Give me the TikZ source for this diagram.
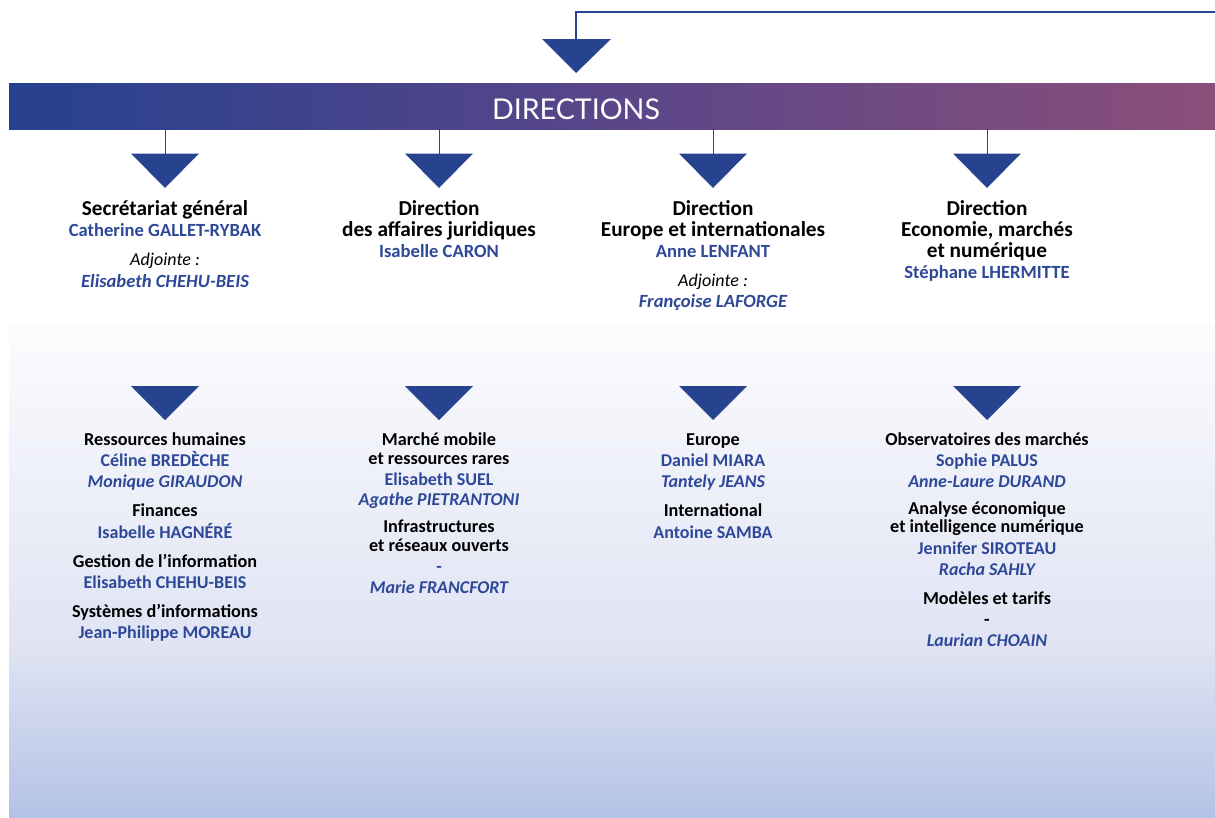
\documentclass[tikz,border=0pt]{standalone}
\usepackage{fontspec}
\setmainfont{Carlito}
\newfontfamily\bannerfont{Lato}
\definecolor{navy}{HTML}{27428F}
\definecolor{nametxt}{HTML}{2D4898}
\definecolor{bandL}{HTML}{26418F}
\definecolor{bandM}{HTML}{5A4689}
\definecolor{bandR}{HTML}{8B4F7A}
\definecolor{bgA}{HTML}{FCFCFE}
\definecolor{bgB}{HTML}{DFE3F3}
\definecolor{bgC}{HTML}{B3C2E5}
\tikzset{
  x=1pt,y=-1pt,
  wire/.style={draw=navy,line width=1pt},
  topwire/.style={draw=navy,line width=1.4pt},
  tri/.style={fill=navy,draw=none},
  lbl/.style={anchor=base,inner sep=0pt,align=center},
  hd/.style={lbl,font=\fontsize{21.3}{24}\selectfont\bfseries,text=black},
  nm/.style={lbl,font=\fontsize{18.6}{21}\selectfont\bfseries,text=nametxt},
  nmi/.style={lbl,font=\fontsize{18.6}{21}\selectfont\bfseries\itshape,text=nametxt},
  adj/.style={lbl,font=\fontsize{18}{21}\selectfont\itshape,text=black},
  sh/.style={lbl,font=\fontsize{18.2}{21}\selectfont\bfseries,text=black},
  sn/.style={lbl,font=\fontsize{18}{21}\selectfont\bfseries,text=nametxt},
  sni/.style={lbl,font=\fontsize{18}{21}\selectfont\bfseries\itshape,text=nametxt},
}
\begin{document}
\begin{tikzpicture}
\useasboundingbox (0,0) rectangle (1215,817);
% background panel
\shade[top color=bgA,bottom color=bgB] (9,325) rectangle (1215,650.5);
\shade[top color=bgB,bottom color=bgC] (9,650) rectangle (1215,817);
% banner
\shade[left color=bandL,right color=bandM] (9,83) rectangle (612,129);
\shade[left color=bandM,right color=bandR] (611.5,83) rectangle (1215,129);
\node[font=\bannerfont\fontsize{28.6}{30}\selectfont,text=white,inner sep=0pt] (banner) at (576,109.5) {DIRECTIONS};
% top connector
\coordinate (topin) at (1215,12);
\coordinate (ttop) at (576,40);
\fill[tri] (542,39) -- (611,39) -- (576,73) -- cycle;
\draw[topwire] (topin) -- (576,12) -- (ttop);
% columns
\foreach \i/\cx in {1/165,2/439,3/713,4/987}{
  \coordinate (b\i) at (\cx,129);
  \coordinate (t\i) at (\cx,154);
  \fill[tri] (\cx-34,153.5) -- (\cx+34,153.5) -- (\cx,188) -- cycle;
  \draw[wire] (b\i) -- (t\i);
  \fill[tri] (\cx-34,386) -- (\cx+34,386) -- (\cx,420) -- cycle;
}
% row 1 ---------------------------------------------
\node[hd] (sg) at (165,215) {Secrétariat général};
\node[nm] (sgn) at (165,236) {Catherine GALLET-RYBAK};
\node[adj] (sga) at (165,265) {Adjointe :};
\node[nmi] (sgan) at (165,287) {Elisabeth CHEHU-BEIS};

\node[hd] (daj1) at (439,215) {Direction};
\node[hd] (daj2) at (439,236) {des affaires juridiques};
\node[nm] (dajn) at (439,257) {Isabelle CARON};

\node[hd] (dei1) at (713,215) {Direction};
\node[hd] (dei2) at (713,236) {Europe et internationales};
\node[nm] (dein) at (713,257) {Anne LENFANT};
\node[adj] (deia) at (713,286) {Adjointe :};
\node[nmi] (deian) at (713,307) {Françoise LAFORGE};

\node[hd] (dem1) at (987,215) {Direction};
\node[hd] (dem2) at (987,236) {Economie, marchés};
\node[hd] (dem3) at (987,257) {et numérique};
\node[nm] (demn) at (987,278) {Stéphane LHERMITTE};

% row 2 ---------------------------------------------
\node[sh] (rh) at (165,445) {Ressources humaines};
\node[sn] (rhn) at (165,466) {Céline BREDÈCHE};
\node[sni] (rhi) at (165,487) {Monique GIRAUDON};
\node[sh] (fi) at (165,516) {Finances};
\node[sn] (fin) at (165,538) {Isabelle HAGNÉRÉ};
\node[sh] (gi) at (165,567) {Gestion de l’information};
\node[sn] (gin) at (165,588) {Elisabeth CHEHU-BEIS};
\node[sh] (si) at (165,617) {Systèmes d’informations};
\node[sn] (sin) at (165,638) {Jean-Philippe MOREAU};

\node[sh] (mm1) at (439,445) {Marché mobile};
\node[sh] (mm2) at (439,464) {et ressources rares};
\node[sn] (mmn) at (439,485) {Elisabeth SUEL};
\node[sni] (mmi) at (439,505) {Agathe PIETRANTONI};
\node[sh] (ir1) at (439,532) {Infrastructures};
\node[sh] (ir2) at (439,551) {et réseaux ouverts};
\node[sn] (irn) at (439,572) {-};
\node[sni] (iri) at (439,593) {Marie FRANCFORT};

\node[sh] (eu) at (713,445) {Europe};
\node[sn] (eun) at (713,466) {Daniel MIARA};
\node[sni] (eui) at (713,487) {Tantely JEANS};
\node[sh] (in) at (713,516) {International};
\node[sn] (inn) at (713,538) {Antoine SAMBA};

\node[sh] (om) at (987,445) {Observatoires des marchés};
\node[sn] (omn) at (987,466) {Sophie PALUS};
\node[sni] (omi) at (987,487) {Anne-Laure DURAND};
\node[sh] (ae1) at (987,514) {Analyse économique};
\node[sh] (ae2) at (987,532) {et intelligence numérique};
\node[sn] (aen) at (987,554) {Jennifer SIROTEAU};
\node[sni] (aei) at (987,575) {Racha SAHLY};
\node[sh] (mt) at (987,604) {Modèles et tarifs};
\node[sh] (mtn) at (987,625) {-};
\node[sni] (mti) at (987,646) {Laurian CHOAIN};
\end{tikzpicture}
\end{document}
